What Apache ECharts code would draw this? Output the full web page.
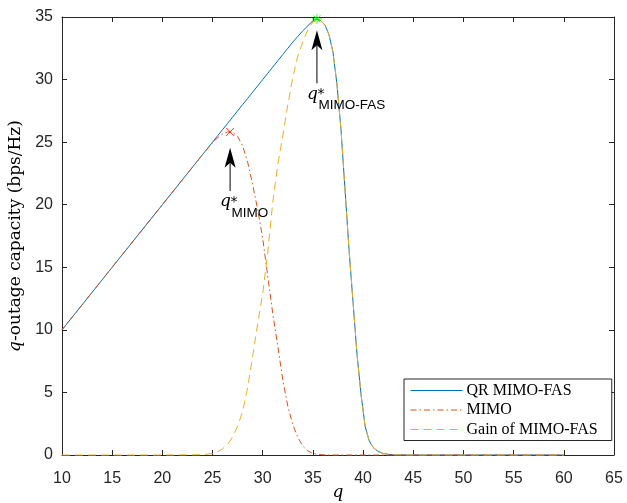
<!DOCTYPE html>
<html>
<head>
<meta charset="utf-8">
<script src="https://cdn.jsdelivr.net/npm/echarts@6/dist/echarts.min.js"></script>
<style>
html,body{margin:0;padding:0;background:#fff;}
#c{width:627px;height:503px;}
</style>
</head>
<body>
<div id="c"></div>
<script>
// ---- data ----
const qGrid = [10, 15, 20, 24, 25, 25.5, 26, 26.5, 27, 27.5, 28, 28.5, 29, 29.5, 30, 30.5, 31, 31.5, 32, 32.5, 33, 33.5, 34, 34.5, 35, 35.4, 35.8, 36.2, 36.6, 37, 37.4, 37.8, 38.2, 38.6, 39, 39.4, 39.8, 40.2, 40.6, 41, 41.5, 42, 42.5, 43, 44, 45, 50, 55, 60];
const qrMimoFas = [10, 15, 20, 24, 25, 25.5, 26, 26.5, 27, 27.5, 28, 28.5, 29, 29.5, 30, 30.5, 31, 31.5, 32, 32.5, 33, 33.45, 33.9, 34.3, 34.7, 34.85, 34.7, 34.35, 33.6, 32.2, 29.6, 26.0, 21.2, 16.4, 12.2, 8.0, 4.8, 2.3, 1.15, 0.6, 0.28, 0.12, 0.05, 0.02, 0, 0, 0, 0, 0];
const mimo = [10, 15, 20, 24, 24.95, 25.35, 25.65, 25.82, 25.8, 25.45, 24.7, 23.4, 21.6, 19.6, 17.3, 14.3, 11.3, 8.7, 6.0, 3.9, 2.4, 1.4, 0.7, 0.32, 0.13, 0.06, 0.03, 0.01, 0, 0, 0, 0, 0, 0, 0, 0, 0, 0, 0, 0, 0, 0, 0, 0, 0, 0, 0, 0, 0];
const gainMimoFas = [0, 0, 0, 0.02, 0.12, 0.25, 0.5, 0.85, 1.45, 2.3, 3.5, 5.4, 7.9, 10.5, 12.9, 16.2, 20.2, 23.2, 25.5, 28.0, 30.2, 31.9, 33.0, 34.0, 34.6, 34.85, 34.7, 34.35, 33.6, 32.2, 29.6, 26.0, 21.2, 16.4, 12.2, 8.0, 4.8, 2.3, 1.15, 0.6, 0.28, 0.12, 0.05, 0.02, 0, 0, 0, 0, 0];
const seriesNames = ['QR MIMO-FAS', 'MIMO', 'Gain of MIMO-FAS'];
const mimoPeak = [26.75, 25.82];
const fasPeak = [35.4, 34.85];
// arrow annotations: [x, tailY, tipY]
const arrowMimo = [26.75, 21.1, 24.55];
const arrowFas = [35.4, 29.7, 33.95];
const xMin = 10, xMax = 65, xStep = 5;
const yMin = 0, yMax = 35, yStep = 5;

const pairs = ys => qGrid.map((q, i) => [q, ys[i]]);
const axisColor = '#262626';
const tickFont = {fontFamily: 'Liberation Sans', fontSize: 16, color: axisColor};

const chart = echarts.init(document.getElementById('c'), null, {renderer: 'canvas'});
const baseX = {type: 'value', min: xMin, max: xMax, interval: xStep,
  axisLine: {show: true, onZero: false, lineStyle: {color: axisColor, width: 1}},
  axisTick: {show: true, inside: true, length: 5, lineStyle: {color: axisColor}},
  splitLine: {show: false}};
const baseY = {type: 'value', min: yMin, max: yMax, interval: yStep,
  axisLine: {show: true, onZero: false, lineStyle: {color: axisColor, width: 1}},
  axisTick: {show: true, inside: true, length: 5, lineStyle: {color: axisColor}},
  splitLine: {show: false}};

chart.setOption({
  animation: false,
  backgroundColor: '#fff',
  grid: {left: 62, right: 13, top: 17, bottom: 48, containLabel: false, outerBoundsMode: 'none'},
  xAxis: [
    Object.assign({}, baseX, {position: 'bottom',
      axisLabel: Object.assign({margin: 16}, tickFont),
      name: '{i|q}', nameLocation: 'middle', nameGap: 29, nameMoveOverlap: false,
      nameTextStyle: {rich: {i: {fontFamily: 'DejaVu Serif', fontStyle: 'italic', fontSize: 17, color: '#000'}}}}),
    Object.assign({}, baseX, {position: 'top', axisLabel: {show: false}})
  ],
  yAxis: [
    Object.assign({}, baseY, {position: 'left',
      axisLabel: Object.assign({margin: 9}, tickFont),
      name: '{i|q}{n|-outage capacity (bps/Hz)}', nameLocation: 'middle', nameGap: 38, nameRotate: 90,
      nameMoveOverlap: false,
      nameTextStyle: {rich: {
        i: {fontFamily: 'DejaVu Serif', fontStyle: 'italic', fontSize: 17, color: '#000'},
        n: {fontFamily: 'DejaVu Serif', fontSize: 17, color: '#000'}}}}),
    Object.assign({}, baseY, {position: 'right', axisLabel: {show: false}})
  ],
  legend: {
    data: seriesNames,
    orient: 'vertical', left: 404, top: 379,
    itemWidth: 52, itemHeight: 14, itemGap: 3.5,
    padding: [3.5, 14, 3, 6],
    borderColor: axisColor, borderWidth: 1, backgroundColor: '#fff',
    itemStyle: {opacity: 0},
    lineStyle: {width: 1},
    textStyle: {fontFamily: 'Liberation Serif', fontSize: 16, lineHeight: 16, color: '#000', padding: [0, 0, 0, -1]}
  },
  series: [
    {name: seriesNames[0], type: 'line', data: pairs(qrMimoFas), symbol: 'none', clip: false,
     lineStyle: {color: '#0072BD', width: 1}, itemStyle: {color: '#0072BD'}},
    {name: seriesNames[1], type: 'line', data: pairs(mimo), symbol: 'none', clip: false,
     lineStyle: {color: '#D95319', width: 1, type: [6, 3, 1.5, 3]}, itemStyle: {color: '#D95319'}},
    {name: seriesNames[2], type: 'line', data: pairs(gainMimoFas), symbol: 'none', clip: false,
     lineStyle: {color: '#EDB120', width: 1, type: [8, 5]}, itemStyle: {color: '#EDB120'}},
    {name: 'peakMimo', type: 'scatter', data: [mimoPeak], symbol: 'path://M0,0L10,10M10,0L0,10',
     symbolSize: 8, itemStyle: {color: 'rgba(0,0,0,0)', borderColor: '#ff0000', borderWidth: 1}, z: 5},
    {name: 'peakFas', type: 'scatter', data: [fasPeak],
     symbol: 'path://M5,0L5,10M0,5L10,5M1.5,1.5L8.5,8.5M8.5,1.5L1.5,8.5',
     symbolSize: 10, itemStyle: {color: 'rgba(0,0,0,0)', borderColor: '#00ff00', borderWidth: 1}, z: 5}
  ]
});

function arrowGraphics(a, sub) {
  const tail = chart.convertToPixel({gridIndex: 0}, [a[0], a[1]]);
  const tip = chart.convertToPixel({gridIndex: 0}, [a[0], a[2]]);
  const x = tip[0], ty = tip[1], by = tail[1];
  const headLen = 20, headHalf = 5.5, notch = 15;
  return [
    {type: 'line', shape: {x1: x, y1: by, x2: x, y2: ty + notch}, style: {stroke: '#000', lineWidth: 1}, z: 10},
    {type: 'polygon', shape: {points: [[x, ty], [x - headHalf, ty + headLen], [x, ty + notch], [x + headHalf, ty + headLen]]},
     style: {fill: '#000'}, z: 10},
    {type: 'text', x: x - 10, y: by + 11, style: {text: 'q', font: 'italic 17px "DejaVu Serif"', fill: '#000', verticalAlign: 'middle', align: 'left'}, z: 10},
    {type: 'text', x: x + 0.5, y: by + 11, style: {text: '*', font: '14px "DejaVu Sans"', fill: '#000', verticalAlign: 'middle', align: 'left'}, z: 11},
    {type: 'text', x: x + 1.5, y: by + 22, style: {text: sub, font: '13.5px "Liberation Sans"', fill: '#000', verticalAlign: 'middle', align: 'left'}, z: 10}
  ];
}
chart.setOption({graphic: arrowGraphics(arrowMimo, 'MIMO').concat(arrowGraphics(arrowFas, 'MIMO-FAS'))});
</script>
</body>
</html>
